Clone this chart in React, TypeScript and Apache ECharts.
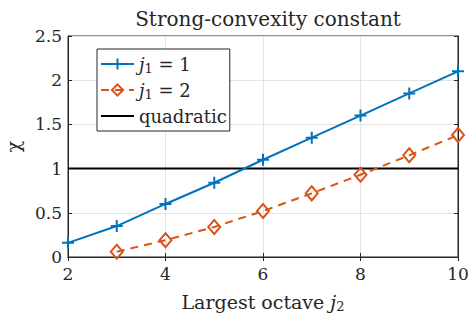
import React, { useEffect, useRef } from "react";
import * as echarts from "echarts";

const xJ1 = [2, 3, 4, 5, 6, 7, 8, 9, 10];
const yJ1 = [0.16, 0.35, 0.6, 0.84, 1.1, 1.35, 1.6, 1.85, 2.1];
const xJ2 = [3, 4, 5, 6, 7, 8, 9, 10];
const yJ2 = [0.06, 0.19, 0.34, 0.52, 0.72, 0.93, 1.15, 1.38];
const xQuad = [2, 10];
const yQuad = [1, 1];
const seriesNames = ["j1=1", "j1=2", "quadratic"];

const FONT = "'DejaVu Serif', 'Liberation Serif', serif";
const TXT = "#262626";
const BLUE = "#0072BD";
const ORANGE = "#D95319";

const plusPath = "path://M6 0 L6 12 M0 6 L12 6";
const diamondPath = "path://M6 0 L12 7 L6 14 L0 7 Z";

const richStyles = (size: number) => ({
  i: { fontFamily: FONT, fontSize: size, fontStyle: "italic", color: TXT, lineHeight: 22, verticalAlign: "middle" },
  n: { fontFamily: FONT, fontSize: size, color: TXT, lineHeight: 22, verticalAlign: "middle" },
  s: { fontFamily: FONT, fontSize: Math.round(size * 0.7), color: TXT, lineHeight: 13, verticalAlign: "bottom" },
});

export default function App() {
  const ref = useRef<HTMLDivElement>(null);
  useEffect(() => {
    if (!ref.current) return;
    const chart = echarts.init(ref.current, undefined, { renderer: "svg" });
    const legendLabels: Record<string, string> = {
      "j1=1": "{i|j}{s|1}{n| = 1}",
      "j1=2": "{i|j}{s|1}{n| = 2}",
      quadratic: "{n|quadratic}",
    };
    chart.setOption({
      animation: false,
      backgroundColor: "#fff",
      title: {
        text: "Strong-convexity constant",
        left: 263,
        textAlign: "center",
        top: 4,
        textStyle: { fontFamily: FONT, fontSize: 20, fontWeight: "normal", color: TXT },
      },
      legend: {
        orient: "vertical",
        left: 97,
        top: 49,
        padding: [6, 3, 6, 3],
        itemWidth: 33,
        itemHeight: 14,
        itemGap: 6,
        backgroundColor: "#fff",
        borderColor: TXT,
        borderWidth: 1,
        data: seriesNames,
        formatter: (name: string) => legendLabels[name],
        textStyle: {
          fontFamily: FONT,
          fontSize: 18,
          color: TXT,
          rich: richStyles(18),
        },
      },
      grid: {
        left: 68,
        right: 11,
        top: 36,
        bottom: 61,
        containLabel: false,
        outerBoundsMode: "none",
        show: true,
        borderColor: TXT,
        borderWidth: 1,
        backgroundColor: "transparent",
      },
      xAxis: [
        {
          type: "value",
          min: 2,
          max: 10,
          interval: 2,
          name: "{n|Largest octave }{i|j}{s|2}",
          nameLocation: "middle",
          nameGap: 34,
          nameTextStyle: {
            fontFamily: FONT,
            fontSize: 19,
            color: TXT,
            rich: richStyles(19),
          },
          axisLine: { show: true, lineStyle: { color: TXT, width: 1 } },
          axisTick: { show: true, inside: true, length: 4, lineStyle: { color: TXT } },
          axisLabel: { fontFamily: FONT, fontSize: 17, color: TXT, margin: 8 },
          splitLine: { show: true, lineStyle: { color: "#e3e3e3", width: 1 } },
        },
        {
          type: "value",
          position: "top",
          min: 2,
          max: 10,
          interval: 2,
          axisLine: { show: true, lineStyle: { color: TXT, width: 1 } },
          axisTick: { show: true, inside: true, length: 4, lineStyle: { color: TXT } },
          axisLabel: { show: false },
          splitLine: { show: false },
        },
      ],
      yAxis: [
        {
          type: "value",
          min: 0,
          max: 2.5,
          interval: 0.5,
          name: "χ",
          nameLocation: "middle",
          nameGap: 46,
          nameRotate: 90,
          nameTextStyle: { fontFamily: FONT, fontSize: 19, color: TXT },
          axisLine: { show: true, lineStyle: { color: TXT, width: 1 } },
          axisTick: { show: true, inside: true, length: 4, lineStyle: { color: TXT } },
          axisLabel: { fontFamily: FONT, fontSize: 17, color: TXT, margin: 6 },
          splitLine: { show: true, lineStyle: { color: "#e3e3e3", width: 1 } },
        },
        {
          type: "value",
          position: "right",
          min: 0,
          max: 2.5,
          interval: 0.5,
          axisLine: { show: true, lineStyle: { color: TXT, width: 1 } },
          axisTick: { show: true, inside: true, length: 4, lineStyle: { color: TXT } },
          axisLabel: { show: false },
          splitLine: { show: false },
        },
      ],
      series: [
        {
          name: seriesNames[0],
          type: "line",
          data: xJ1.map((x, i) => [x, yJ1[i]]),
          symbol: plusPath,
          symbolSize: 12,
          showAllSymbol: true,
          lineStyle: { color: BLUE, width: 2 },
          itemStyle: { color: "none", borderColor: BLUE, borderWidth: 2 },
          z: 3,
        },
        {
          name: seriesNames[1],
          type: "line",
          data: xJ2.map((x, i) => [x, yJ2[i]]),
          symbol: diamondPath,
          symbolSize: [12, 14],
          showAllSymbol: true,
          lineStyle: { color: ORANGE, width: 2, type: [8, 6] },
          itemStyle: { color: "none", borderColor: ORANGE, borderWidth: 2 },
          z: 3,
        },
        {
          name: seriesNames[2],
          type: "line",
          data: xQuad.map((x, i) => [x, yQuad[i]]),
          symbol: "circle",
          showSymbol: false,
          lineStyle: { color: "#000", width: 2 },
          itemStyle: { color: "transparent", borderColor: "transparent", borderWidth: 0 },
          z: 2,
        },
      ],
    });
    return () => chart.dispose();
  }, []);
  return <div ref={ref} style={{ width: 469, height: 318, position: "absolute", left: 0, top: 0 }} />;
}
